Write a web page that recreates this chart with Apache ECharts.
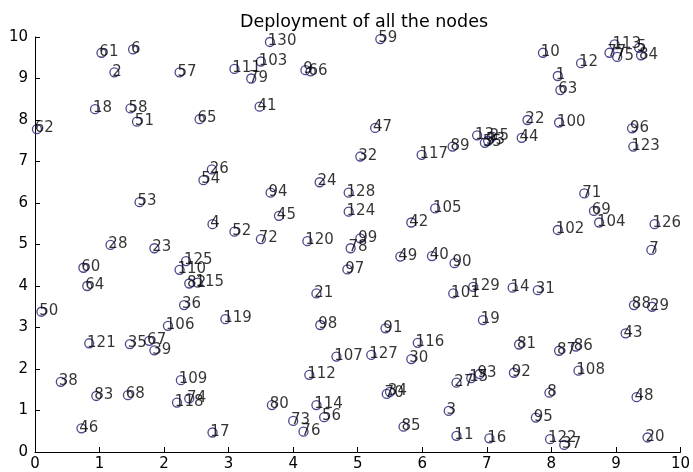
<!DOCTYPE html>
<html>
<head>
<meta charset="utf-8">
<script src="https://cdn.jsdelivr.net/npm/echarts@6/dist/echarts.min.js"></script>
<style>
html,body{margin:0;padding:0;background:#fff;}
#chart{width:693px;height:472px;}
</style>
</head>
<body>
<div id="chart"></div>
<script>
var titleText = 'Deployment of all the nodes';
var xTicks = [0,1,2,3,4,5,6,7,8,9,10];
var yTicks = [0,1,2,3,4,5,6,7,8,9,10];

var nodeIds = [
  1,2,3,4,5,6,7,8,9,10,
  11,12,13,14,15,16,17,18,19,20,
  21,22,23,24,25,26,27,28,29,30,
  31,32,33,34,35,36,37,38,39,40,
  41,42,43,44,45,46,47,48,49,50,
  51,52,53,54,55,56,57,58,59,60,
  61,62,63,64,65,66,67,68,69,70,
  71,72,73,74,75,76,77,78,79,80,
  81,82,83,84,85,86,87,88,89,90,
  91,92,93,94,95,96,97,98,99,100,
  101,102,103,104,105,106,107,108,109,110,
  111,112,113,114,115,116,117,118,119,120,
  121,122,123,124,125,126,127,128,129,130
];
var nodeX = [
  8.10,1.23,6.41,2.75,9.36,1.52,9.55,7.97,4.19,7.87,
  6.53,8.46,6.85,7.40,6.76,7.04,2.75,0.93,6.94,9.49,
  4.36,7.63,1.85,4.41,7.08,2.74,6.53,1.17,9.56,5.83,
  7.79,5.04,7.02,5.50,1.47,2.31,8.20,0.40,1.85,6.15,
  3.48,5.83,9.15,7.54,3.78,0.72,5.27,9.32,5.66,0.10,
  1.58,3.09,1.62,2.61,6.97,4.48,2.24,1.48,5.35,0.75,
  1.03,0.03,8.14,0.81,2.55,4.27,1.77,1.44,8.66,5.45,
  8.51,3.50,4.00,2.39,9.02,4.16,8.90,4.89,3.35,3.67,
  7.50,2.39,0.95,9.39,5.71,8.38,8.12,9.28,6.47,6.50,
  5.43,7.42,6.89,3.65,7.76,9.25,4.84,4.42,5.04,8.12,
  6.48,8.10,3.50,8.74,6.20,2.06,4.67,8.42,2.26,2.24,
  3.09,4.25,8.98,4.36,2.52,5.93,5.99,2.20,2.95,4.22,
  0.84,7.98,9.27,4.86,2.34,9.60,5.21,4.86,6.79,3.64
];
var nodeY = [
  9.06,9.15,0.99,5.49,9.74,9.70,4.87,1.43,9.20,9.62,
  0.39,9.37,7.63,3.96,1.78,0.33,0.47,8.26,3.18,0.35,
  3.82,8.00,4.91,6.50,7.60,6.81,1.67,4.99,3.50,2.24,
  3.90,7.12,7.50,1.45,2.60,3.54,0.17,1.69,2.45,4.72,
  8.32,5.53,2.86,7.57,5.69,0.57,7.81,1.32,4.71,3.38,
  7.96,5.31,6.02,6.55,7.45,0.84,9.15,8.28,9.95,4.44,
  9.62,7.78,8.72,4.00,8.02,9.17,2.68,1.37,5.81,1.40,
  6.23,5.13,0.75,1.29,9.52,0.49,9.62,4.91,9.00,1.13,
  2.59,4.06,1.35,9.56,0.61,2.54,2.44,3.54,7.36,4.55,
  2.98,1.91,1.88,6.25,0.83,7.80,4.40,3.06,5.15,7.94,
  3.82,5.35,9.41,5.53,5.87,3.04,2.30,1.96,1.73,4.39,
  9.23,1.86,9.82,1.13,4.08,2.63,7.16,1.19,3.20,5.08,
  2.62,0.31,7.36,5.79,4.60,5.49,2.34,6.25,3.98,9.88
];

var points = nodeIds.map(function(id, i){ return [nodeX[i], nodeY[i], id]; });

var chart = echarts.init(document.getElementById('chart'), null, {renderer:'canvas'});
var axisText = {color:'#000', fontFamily:'DejaVu Sans', fontSize:15};
chart.setOption({
  animation:false,
  backgroundColor:'#ffffff',
  title:{
    text:titleText, left:359, top:8, textAlign:'center',
    textStyle:{color:'#000', fontFamily:'DejaVu Sans', fontSize:17.5, fontWeight:'normal'}
  },
  grid:{left:35, right:10, top:37, bottom:20, containLabel:false},
  xAxis:{
    type:'value', min:xTicks[0], max:xTicks[xTicks.length-1], interval:1,
    axisLine:{show:true, onZero:false, lineStyle:{color:'#000', width:1}},
    axisTick:{show:true, inside:true, length:5, lineStyle:{color:'#000'}},
    axisLabel:Object.assign({margin:5}, axisText),
    splitLine:{show:false}
  },
  yAxis:{
    type:'value', min:yTicks[0], max:yTicks[yTicks.length-1], interval:1,
    axisLine:{show:true, onZero:false, lineStyle:{color:'#000', width:1}},
    axisTick:{show:true, inside:true, length:5, lineStyle:{color:'#000'}},
    axisLabel:Object.assign({margin:7}, axisText),
    splitLine:{show:false}
  },
  series:[{
    type:'scatter',
    data:points,
    symbol:'circle',
    symbolSize:9,
    itemStyle:{color:'rgba(0,0,0,0)', borderColor:'#1c1c6e', borderWidth:1.3},
    label:{
      show:true,
      position:[3,4.5],
      align:'left',
      verticalAlign:'middle',
      formatter:function(p){ return String(p.value[2]); },
      color:'#000', fontFamily:'DejaVu Sans', fontSize:15,
      textBorderWidth:0
    },
    labelLayout:{hideOverlap:false},
    emphasis:{disabled:true}
  }]
});
</script>
</body>
</html>
